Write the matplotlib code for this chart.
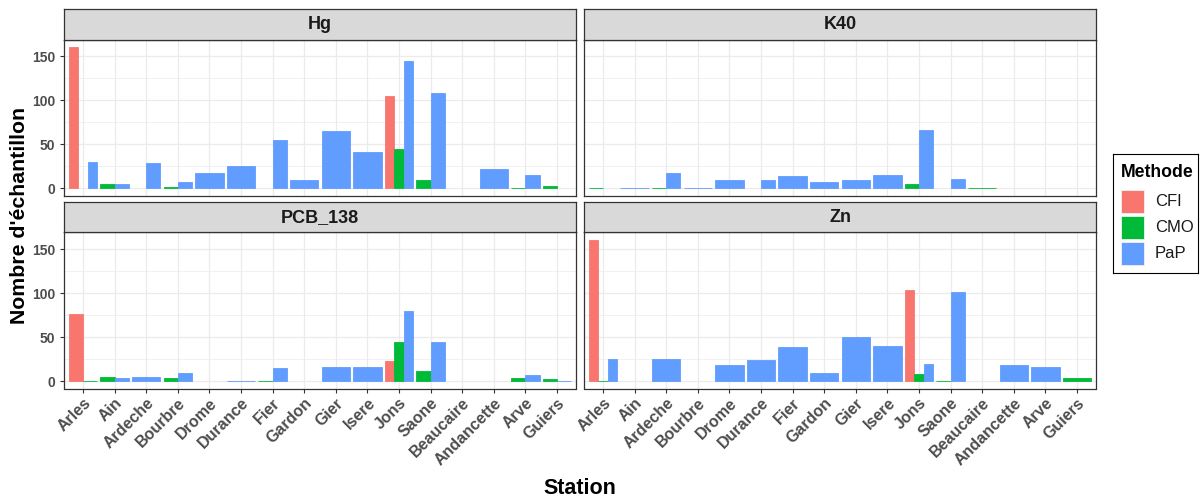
import matplotlib
matplotlib.use("Agg")
import matplotlib.pyplot as plt
from matplotlib.patches import Rectangle
import numpy as np

plt.rcParams["font.family"] = ["Liberation Sans", "DejaVu Sans"]

stations = ["Arles", "Ain", "Ardeche", "Bourbre", "Drome", "Durance", "Fier", "Gardon",
            "Gier", "Isere", "Jons", "Saone", "Beaucaire", "Andancette", "Arve", "Guiers"]
methods = ["CFI", "CMO", "PaP"]
colors = {"CFI": "#F8766D", "CMO": "#00BA38", "PaP": "#619CFF"}
N = None

# counts per station (None = method absent at that station)
hg_cfi = [161, N, N, N, N, N, N, N, N, N, 105, N, N, N, N, N]
hg_cmo = [0, 5, 0, 2, N, N, 0, N, N, N, 45, 10, N, N, 1, 3]
hg_pap = [30, 5, 29, 7, 18, 25, 55, 10, 65, 41, 145, 108, N, 22, 15, 0]

k40_cfi = [N] * 16
k40_cmo = [1, N, 1, N, N, 0, N, N, N, N, 5, 0, 1, N, N, N]
k40_pap = [0, 1, 18, 1, 10, 10, 14, 7, 10, 15, 66, 11, N, N, N, N]

pcb_cfi = [76, N, N, N, N, N, N, N, N, N, 23, N, N, N, N, N]
pcb_cmo = [1, 5, N, 4, N, N, 1, N, N, N, 45, 12, N, N, 4, 3]
pcb_pap = [N, 4, 5, 9, N, 1, 15, N, 16, 16, 80, 45, N, N, 7, 1]

zn_cfi = [160, N, N, N, N, N, N, N, N, N, 104, N, N, N, N, N]
zn_cmo = [1, N, N, N, N, N, N, N, N, N, 8, 1, N, N, N, 4]
zn_pap = [26, N, 26, N, 19, 24, 39, 10, 50, 40, 20, 101, N, 19, 16, N]

panels = [
    ("Hg", [hg_cfi, hg_cmo, hg_pap]),
    ("K40", [k40_cfi, k40_cmo, k40_pap]),
    ("PCB_138", [pcb_cfi, pcb_cmo, pcb_pap]),
    ("Zn", [zn_cfi, zn_cmo, zn_pap]),
]

W, H = 1201, 501
fig = plt.figure(figsize=(W / 100, H / 100), dpi=100)
fig.patch.set_facecolor("white")


def fr(x0, y0, x1, y1):
    # pixel box (top-left origin) -> figure fraction rect
    return [x0 / W, 1 - y1 / H, (x1 - x0) / W, (y1 - y0) / H]


cols = [(64, 576), (584, 1096)]
rows = [((9, 39.5), (39.5, 195.5)), ((202, 232.5), (232.5, 388.5))]

ymax = max(v for _, ser in panels for s in ser for v in s if v is not None)
ylo, yhi = -0.05 * ymax, 1.05 * ymax
grey20 = "#333333"
tickc = "#4D4D4D"

for idx, (name, series) in enumerate(panels):
    r, c = divmod(idx, 2)
    (sy0, sy1), (py0, py1) = rows[r]
    x0, x1 = cols[c]

    ax = fig.add_axes(fr(x0, py0, x1, py1))
    ax.set_xlim(-0.6, len(stations) - 0.4)
    ax.set_ylim(ylo, yhi)
    ax.set_axisbelow(True)
    ax.set_xticks(range(len(stations)))
    ax.set_yticks([0, 50, 100, 150])
    ax.set_yticks([25, 75, 125], minor=True)
    ax.grid(which="major", color="#EBEBEB", linewidth=0.9)
    ax.grid(which="minor", axis="y", color="#EBEBEB", linewidth=0.5)
    for sp in ax.spines.values():
        sp.set_color(grey20)
        sp.set_linewidth(0.9)
    ax.tick_params(which="minor", length=0)
    ax.tick_params(which="major", length=3, width=0.8, color=grey20,
                   labelcolor=tickc)
    ax.tick_params(axis="y", labelsize=10)
    ax.tick_params(axis="x", labelsize=11.5, pad=2)

    # dodged bars
    for i in range(len(stations)):
        present = [(m, s[i]) for m, s in zip(methods, series) if s[i] is not None]
        n = len(present)
        if n == 0:
            continue
        w = 0.9 / n
        for k, (m, v) in enumerate(present):
            ax.bar(i - 0.45 + w * (k + 0.5), v, width=w, color=colors[m],
                   edgecolor=colors[m] if v > 0 else "none", linewidth=0.6)

    if c == 0:
        ax.set_yticklabels(["0", "50", "100", "150"], fontweight="bold")
    else:
        ax.tick_params(axis="y", left=False, labelleft=False)
    if r == 1:
        ax.set_xticklabels(stations, rotation=45, ha="right", va="top",
                           rotation_mode="anchor", fontweight="bold")
    else:
        ax.tick_params(axis="x", bottom=False, labelbottom=False)

    sax = fig.add_axes(fr(x0, sy0, x1, sy1))
    sax.set_facecolor("#D9D9D9")
    sax.set_xticks([])
    sax.set_yticks([])
    for sp in sax.spines.values():
        sp.set_color(grey20)
        sp.set_linewidth(0.9)
    sax.text(0.5, 0.48, name, ha="center", va="center", fontsize=13,
             fontweight="bold", color="#1A1A1A", transform=sax.transAxes)

fig.text(20 / W, 1 - 215 / H, "Nombre d'échantillon", rotation=90, ha="center",
         va="center", fontsize=15.3, fontweight="bold")
fig.text(580 / W, 1 - 489 / H, "Station", ha="center", va="center",
         fontsize=15.5, fontweight="bold")

# legend
lx0, ly0, lx1, ly1 = 1113, 154, 1198, 273
lax = fig.add_axes(fr(lx0, ly0, lx1, ly1))
lax.set_xlim(lx0, lx1)
lax.set_ylim(ly1, ly0)
lax.set_xticks([])
lax.set_yticks([])
for sp in lax.spines.values():
    sp.set_color("#000000")
    sp.set_linewidth(0.8)
lax.text(1121, 173, "Methode", ha="left", va="center", fontsize=12.7, fontweight="bold")
for k, m in enumerate(methods):
    yk = 190 + 26 * k
    lax.add_patch(Rectangle((1121, yk), 23, 23, facecolor=colors[m], edgecolor="#F2F2F2",
                            linewidth=0.6))
    lax.text(1155, yk + 12, m, ha="left", va="center", fontsize=12, color="#1A1A1A")

fig.savefig("out.png", dpi=100)
